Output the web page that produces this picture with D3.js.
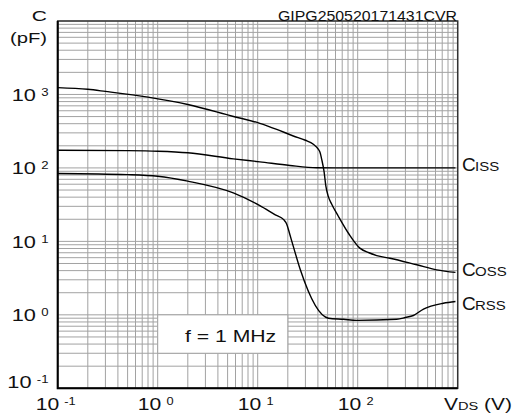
<!DOCTYPE html>
<html>
<head>
<meta charset="utf-8">
<script src="https://cdn.jsdelivr.net/npm/d3@7"></script>
<style>
  body { margin: 0; background: #fff; }
  svg { display: block; }
</style>
</head>
<body>
<svg id="chart" width="516" height="416"></svg>
<script>
// Capacitance vs. drain-source voltage, [V_DS (V), C (pF)].
const ciss = [[0.1, 174], [0.5, 172], [1, 169], [2, 161], [5.7, 133], [10.5, 121],
    [21, 108], [39, 100.5], [60, 100], [200, 100], [950, 100]];

const coss = [[0.1, 1240], [0.2, 1175], [0.3, 1100], [0.8, 920], [2, 730], [5.6, 505],
    [10.5, 405], [15.5, 335], [22.7, 272], [30, 238], [36, 210], [40.3, 180], [42.2, 160],
    [43.6, 132], [46.1, 89], [48, 57], [50.8, 41], [55, 32], [64, 22], [82, 12.5],
    [105, 8.1], [130, 7], [155, 6.4], [210, 5.9], [390, 4.8], [617, 4.1], [950, 3.78]];

const crss = [[0.1, 84], [0.5, 81], [1, 77], [2, 66], [5.7, 45.7], [10.5, 30.7], [15, 23],
    [18.2, 19.8], [19.6, 16.9], [21, 12.3], [22.7, 8.55], [26.7, 4.1], [51, 0.9], [72, 0.87],
    [98, 0.84], [245, 0.87], [300, 0.92], [360, 0.98], [455, 1.2], [718, 1.44], [950, 1.52]];

// Labelled decades on each axis.
const xTickValues = [0.1, 1, 10, 100];
const xTickExps = ["-1", "0", "1", "2"];
const yTickValues = [0.1, 1, 10, 100, 1000];
const yTickExps = ["-1", "0", "1", "2", "3"];

const seriesLabels = [
    { main: "C", sub: "ISS", data: ciss, baseline: 171 },
    { main: "C", sub: "OSS", data: coss, baseline: 276 },
    { main: "C", sub: "RSS", data: crss, baseline: 309.5 }
];

const FONT = "'Liberation Sans', Arial, sans-serif";
const GRID = "#a2a2a2";
const svg = d3.select("#chart");

const plotLeft = 57.7, plotRight = 457.7, plotTop = 21, plotBottom = 388.3;
const x = d3.scaleLog().domain([0.1, 1000]).range([plotLeft, plotRight]);
const y = d3.scaleLog().domain([0.1, 10000]).range([plotBottom, plotTop]);

// Grid (every 1..9 step of each decade).
svg.append("g")
    .attr("transform", `translate(0,${plotBottom})`)
    .call(d3.axisBottom(x).offset(0).tickSize(-(plotBottom - plotTop)).tickFormat(""))
    .call(g => g.select(".domain").remove())
    .selectAll("line").attr("stroke", GRID).attr("stroke-width", 1);

svg.append("g")
    .attr("transform", `translate(${plotLeft},0)`)
    .call(d3.axisLeft(y).offset(0).tickSize(-(plotRight - plotLeft)).tickFormat(""))
    .call(g => g.select(".domain").remove())
    .selectAll("line").attr("stroke", GRID).attr("stroke-width", 1);

// White box for the frequency note.
svg.append("rect")
    .attr("x", x(1)).attr("y", y(1))
    .attr("width", x(20) - x(1)).attr("height", y(0.3) - y(1))
    .attr("fill", "#fff").attr("stroke", GRID).attr("stroke-width", 1);

// Frame.
svg.append("rect")
    .attr("x", plotLeft).attr("y", plotTop)
    .attr("width", plotRight - plotLeft).attr("height", plotBottom - plotTop)
    .attr("fill", "none").attr("stroke", "#333").attr("stroke-width", 1.5);
svg.append("path")
    .attr("d", `M${plotLeft},${plotTop}V${plotBottom}H${plotRight}`)
    .attr("fill", "none").attr("stroke", "#000").attr("stroke-width", 2);

// Curves.
const line = d3.line()
    .x(d => x(d[0]))
    .y(d => y(d[1]))
    .curve(d3.curveMonotoneX);

svg.append("g").selectAll("path")
    .data(seriesLabels)
    .join("path")
    .attr("d", d => line(d.data))
    .attr("fill", "none")
    .attr("stroke", "#000")
    .attr("stroke-width", 1.4);

// Text helper: text stretched horizontally by sx around its anchor point.
function label(px, py, sx, anchor, size) {
    return svg.append("text")
        .attr("transform", `translate(${px},${py}) scale(${sx},1)`)
        .attr("text-anchor", anchor)
        .attr("font-family", FONT)
        .attr("font-size", size)
        .attr("fill", "#111");
}

// Y tick labels.
yTickValues.forEach((v, i) => {
    const base = v === 0.1 ? y(v) : y(v) + 6.5;
    const t = label(48.5, base, 1.32, "end", 16.5);
    t.append("tspan").text("10");
    t.append("tspan").attr("dx", 4).attr("dy", -5).attr("font-size", 10).text(yTickExps[i]);
});

// X tick labels.
xTickValues.forEach((v, i) => {
    const t = label(x(v) - 2, 410, 1.28, "middle", 16.5);
    t.append("tspan").text("10");
    t.append("tspan").attr("dx", 4).attr("dy", -5).attr("font-size", 10).text(xTickExps[i]);
});

// Axis titles.
label(47, 20.7, 1.4, "end", 15).text("C");
label(47, 42.5, 1.35, "end", 15).text("(pF)");

const vds = label(444, 409.5, 1.27, "start", 16.5);
vds.append("tspan").text("V");
vds.append("tspan").attr("font-size", 11.5).text("DS");
vds.append("tspan").text(" (V)");

// Series labels.
seriesLabels.forEach(s => {
    label(462, s.baseline, 1, "start", 19).text(s.main);
    label(475, s.baseline, 1.2, "start", 12.5).text(s.sub);
});

// Notes.
label(185, 341.7, 1.3, "start", 16.3).text("f = 1 MHz");

svg.append("text")
    .attr("x", 278).attr("y", 20.5)
    .attr("font-family", FONT).attr("font-size", 14.5).attr("fill", "#111")
    .attr("textLength", 179).attr("lengthAdjust", "spacingAndGlyphs")
    .text("GIPG250520171431CVR");
</script>
</body>
</html>
